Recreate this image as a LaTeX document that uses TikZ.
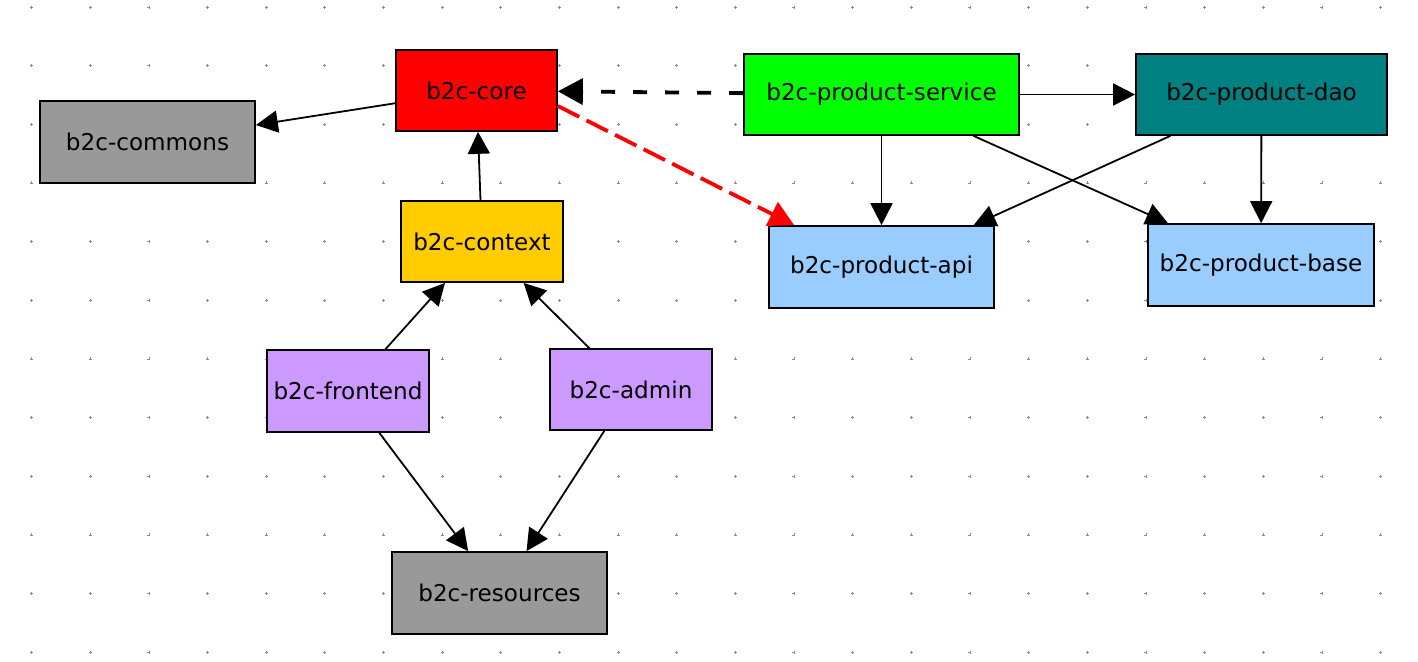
\documentclass[tikz,border=0pt]{standalone}
\usepackage{fontspec}
\setmainfont{DejaVu Sans}
\usetikzlibrary{arrows.meta}
\definecolor{corered}{HTML}{FF0000}
\definecolor{libgray}{HTML}{999999}
\definecolor{ctxyellow}{HTML}{FFCC00}
\definecolor{svcgreen}{HTML}{00FF00}
\definecolor{daoteal}{HTML}{008080}
\definecolor{apiblue}{HTML}{99CCFF}
\definecolor{webpurple}{HTML}{CC99FF}
\definecolor{gridgray}{HTML}{8A8A8A}
\begin{document}
\begin{tikzpicture}[x=0.5pt,y=-0.5pt,
  box/.style={draw=black, line width=0.85pt, inner sep=0pt,
    minimum height=40.5pt, font=\fontsize{11.55}{14}\selectfont},
  dep/.style={-{Triangle[length=11pt,width=11pt]}, line width=0.9pt},
  weakdep/.style={-{Triangle[length=12.5pt,width=13pt]}, line width=1.9pt}]
  % canvas
  \useasboundingbox[fill=white] (0,0) rectangle (1418,661);
  % dotted background grid
  \foreach \i in {0,...,23}
    \foreach \j in {0,...,11}
      \draw[gridgray, line width=0.3pt]
        (31.5+58.65*\i-1.5, 7+58.65*\j) -- ++(3,0)
        (31.5+58.65*\i, 7+58.65*\j-1.5) -- ++(0,3);
  % modules
  \node[box, fill=corered, minimum width=80.5pt] (core) at (476.5,90.5) {b2c-core};
  \node[box, fill=libgray, minimum width=107.5pt, minimum height=41pt] (commons) at (147.5,142) {b2c-commons};
  \node[box, fill=ctxyellow, minimum width=81pt] (context) at (482,241.5) {b2c-context};
  \node[box, fill=svcgreen, minimum width=137.5pt] (service) at (881.5,94.5) {b2c-product-service};
  \node[box, fill=daoteal, minimum width=125.5pt] (dao) at (1261.5,94.5) {b2c-product-dao};
  \node[box, fill=apiblue, minimum width=112.5pt, minimum height=41pt] (api) at (881.5,267) {b2c-product-api};
  \node[box, fill=apiblue, minimum width=113pt, minimum height=41pt] (base) at (1261,265) {b2c-product-base};
  \node[box, fill=webpurple, minimum width=81pt, minimum height=41pt] (frontend) at (348,391) {b2c-frontend};
  \node[box, fill=webpurple, minimum width=81pt] (admin) at (631,389.5) {b2c-admin};
  \node[box, fill=libgray, minimum width=107.5pt, minimum height=41pt] (resources) at (499.5,593) {b2c-resources};
  % dependencies
  \draw[dep] (core) -- (commons);
  \draw[dep] (context) -- (core);
  \draw[weakdep, dash pattern=on 7pt off 9pt] (service) -- (core);
  \draw[weakdep, corered, dash pattern=on 12pt off 4pt]
    ([yshift=-7.75pt]core.east) -- ([xshift=13pt]api.north west);
  \draw[dep] (service) -- (dao);
  \draw[dep] (service) -- (api);
  \draw[dep] (service) -- (base);
  \draw[dep] (dao) -- (api);
  \draw[dep] (dao) -- (base);
  \draw[dep] (frontend) -- (context);
  \draw[dep] (admin) -- (context);
  \draw[dep] (frontend) -- (resources);
  \draw[dep] (admin) -- (resources);
\end{tikzpicture}
\end{document}
